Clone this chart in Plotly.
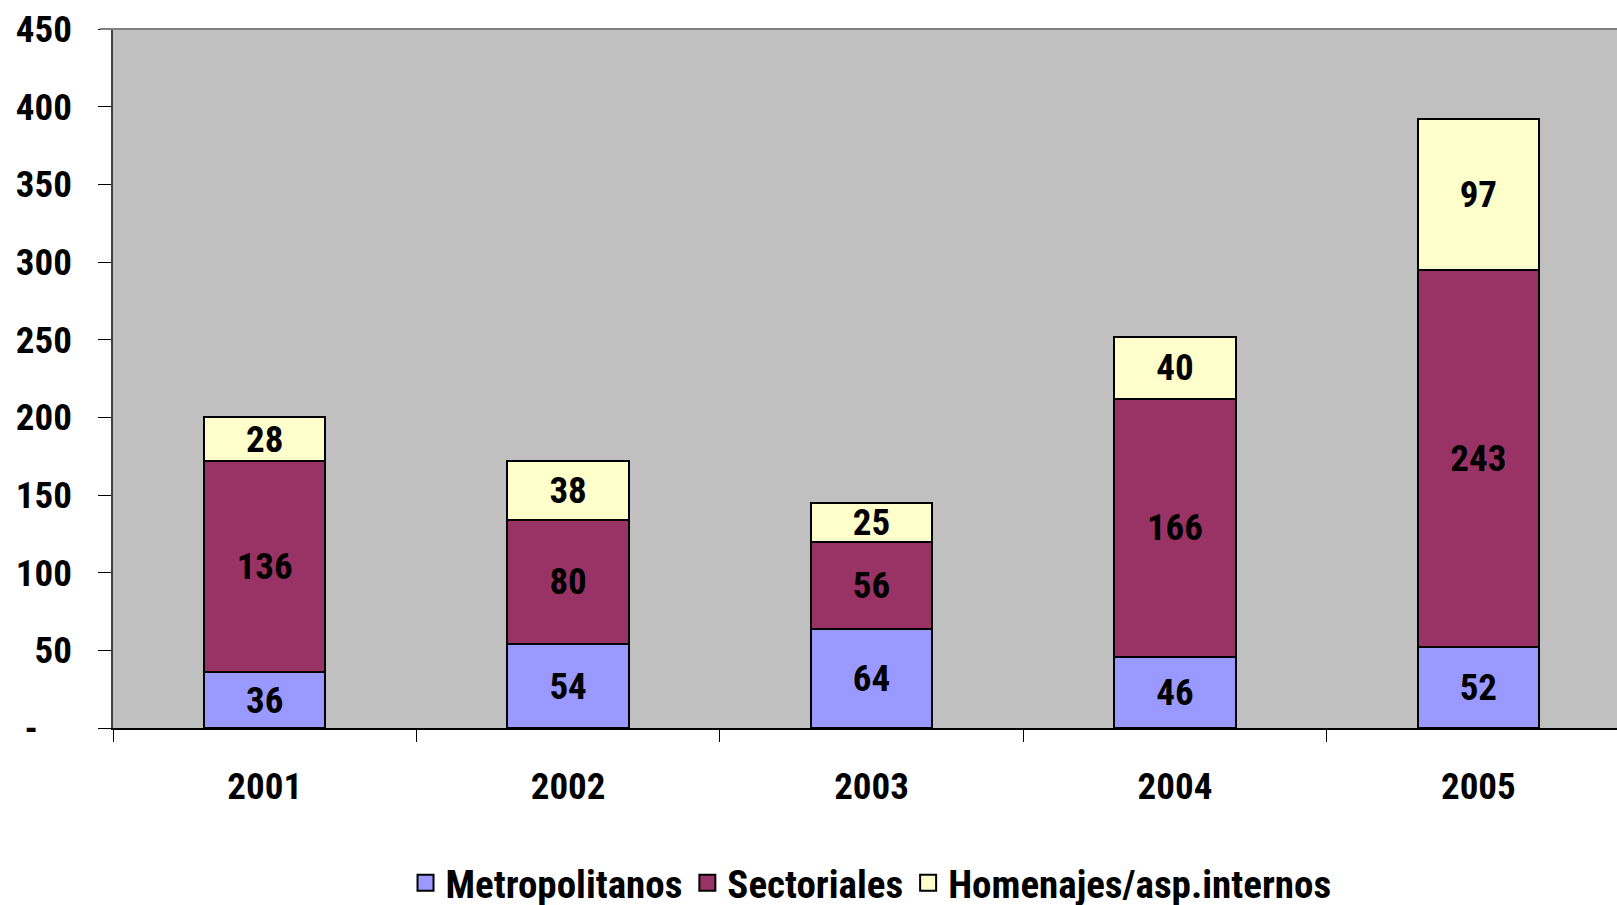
import plotly.graph_objects as go

years = ["2001", "2002", "2003", "2004", "2005"]
metropolitanos = [36, 54, 64, 46, 52]
sectoriales = [136, 80, 56, 166, 243]
homenajes = [28, 38, 25, 40, 97]
series_names = ["Metropolitanos", "Sectoriales", "Homenajes/asp.internos"]
series_colors = ["#9999FF", "#993366", "#FFFFCC"]
y_ticks = [0, 50, 100, 150, 200, 250, 300, 350, 400, 450]
y_tick_labels = ["-\u00a0\u00a0\u00a0\u00a0", "50", "100", "150", "200", "250", "300", "350", "400", "450"]

FONT = "Roboto Condensed, Arial Narrow, sans-serif"
FS = 37

fig = go.Figure()
for name, vals, col in zip(series_names, [metropolitanos, sectoriales, homenajes], series_colors):
    fig.add_trace(go.Bar(
        x=years, y=vals, name=name, showlegend=False,
        marker=dict(color=col, line=dict(color="black", width=2)),
        text=vals, texttemplate="%{text}", textposition="inside", textangle=0,
        insidetextanchor="middle", constraintext="none",
        textfont=dict(family=FONT, size=FS, color="black", weight="bold"),
        width=0.4,
    ))
# legend entries
for name, col in zip(series_names, series_colors):
    fig.add_trace(go.Scatter(
        x=[None], y=[None], mode="markers", name=name, showlegend=True,
        marker=dict(symbol="square", size=16, color=col, line=dict(color="black", width=2)),
    ))

H = 915
fig.update_layout(
    barmode="stack",
    width=1617, height=H,
    margin=dict(l=113, r=0, t=29, b=H - 728),
    plot_bgcolor="#C0C0C0", paper_bgcolor="white",
    font=dict(family=FONT, size=FS, color="black", weight="bold"),
    showlegend=True,
    legend=dict(orientation="h", x=0.504, xanchor="center", y=(728 - H) / 699, yanchor="bottom",
                font=dict(family=FONT, size=39, color="black", weight="bold"),
                traceorder="normal", itemsizing="trace", bgcolor="rgba(0,0,0,0)"),
    xaxis=dict(range=[-0.5, 4.457], tickson="boundaries", ticks="outside", ticklen=12,
               tickcolor="black", showline=True, linecolor="black", linewidth=1.5,
               tickfont=dict(family=FONT, size=FS, color="black", weight="bold"),
               ticklabelstandoff=25, showgrid=False, automargin=False),
    yaxis=dict(range=[0, 450], tickvals=y_ticks, ticktext=y_tick_labels,
               ticks="outside", ticklen=13, tickcolor="black", showline=True, linecolor="#404040",
               linewidth=1.5, showgrid=False, zeroline=False, automargin=False,
               ticklabelstandoff=19,
               tickfont=dict(family=FONT, size=FS, color="black", weight="bold")),
)
fig.add_shape(type="line", xref="paper", yref="paper", x0=-13/1504, x1=1, y0=1, y1=1,
              line=dict(color="#808080", width=2))
fig.write_html("out.html", config={"displayModeBar": False},
               post_script="document.body.style.margin='0';document.body.style.overflow='hidden';")
